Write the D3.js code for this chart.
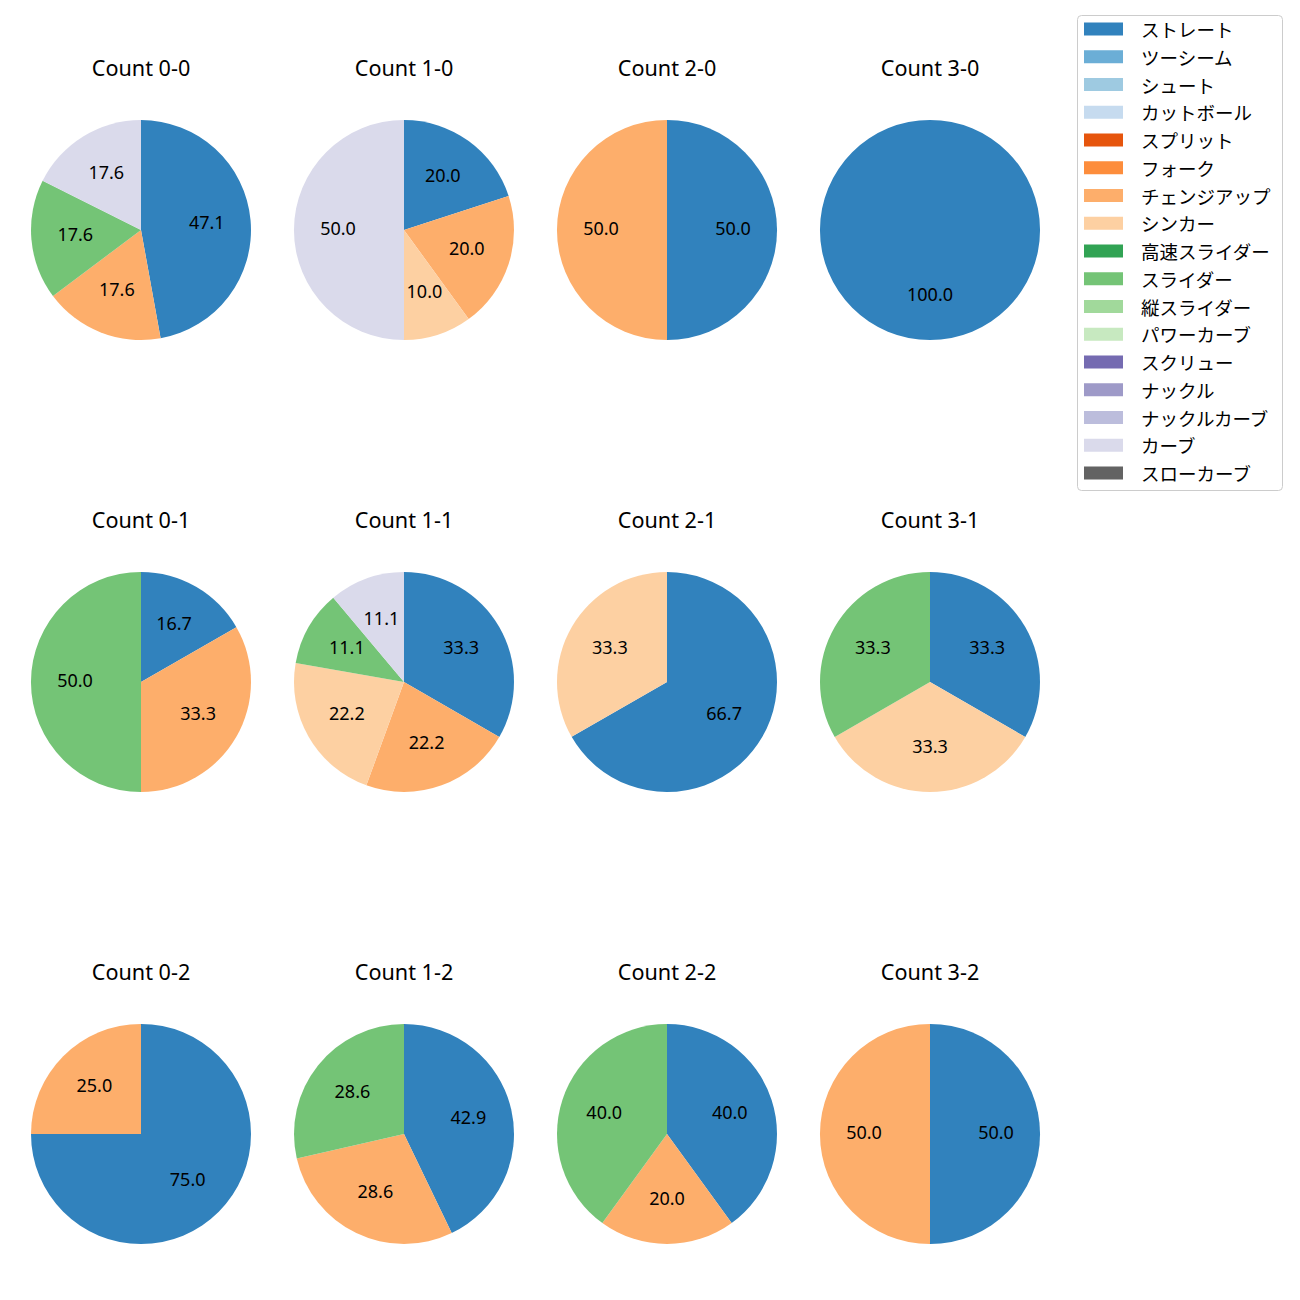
<!DOCTYPE html>
<html><head><meta charset="utf-8">
<script src="https://cdn.jsdelivr.net/npm/d3@7"></script>
<style>body{margin:0;background:#fff}svg{display:block}text{font-family:"Noto Sans","Noto Sans CJK JP",sans-serif}.jp{font-family:"Noto Sans CJK JP","Noto Sans",sans-serif}</style>
</head><body><svg id="c" width="1300" height="1300"></svg>
<script>
const pitchTypes = ["ストレート","ツーシーム","シュート","カットボール","スプリット","フォーク","チェンジアップ","シンカー","高速スライダー","スライダー","縦スライダー","パワーカーブ","スクリュー","ナックル","ナックルカーブ","カーブ","スローカーブ"];
const pitchColors = ["#3182bd","#6baed6","#9ecae1","#c6dbef","#e6550d","#fd8d3c","#fdae6b","#fdd0a2","#31a354","#74c476","#a1d99b","#c7e9c0","#756bb1","#9e9ac8","#bcbddc","#dadaeb","#636363"];
const countTitles = ["Count 0-0","Count 1-0","Count 2-0","Count 3-0","Count 0-1","Count 1-1","Count 2-1","Count 3-1","Count 0-2","Count 1-2","Count 2-2","Count 3-2"];
// percentages per count, keyed by pitch type
const pct00 = {"ストレート":47.1,"チェンジアップ":17.6,"スライダー":17.6,"カーブ":17.6};
const pct10 = {"ストレート":20.0,"チェンジアップ":20.0,"シンカー":10.0,"カーブ":50.0};
const pct20 = {"ストレート":50.0,"チェンジアップ":50.0};
const pct30 = {"ストレート":100.0};
const pct01 = {"ストレート":16.7,"チェンジアップ":33.3,"スライダー":50.0};
const pct11 = {"ストレート":33.3,"チェンジアップ":22.2,"シンカー":22.2,"スライダー":11.1,"カーブ":11.1};
const pct21 = {"ストレート":66.7,"シンカー":33.3};
const pct31 = {"ストレート":33.3,"シンカー":33.3,"スライダー":33.3};
const pct02 = {"ストレート":75.0,"チェンジアップ":25.0};
const pct12 = {"ストレート":42.9,"チェンジアップ":28.6,"スライダー":28.6};
const pct22 = {"ストレート":40.0,"チェンジアップ":20.0,"スライダー":40.0};
const pct32 = {"ストレート":50.0,"チェンジアップ":50.0};
const countData = [pct00,pct10,pct20,pct30,pct01,pct11,pct21,pct31,pct02,pct12,pct22,pct32];

const svg = d3.select("#c");
const color = d3.scaleOrdinal().domain(pitchTypes).range(pitchColors);
const xPos = d3.scaleLinear().domain([0,3]).range([141,930]);
const yPos = d3.scaleLinear().domain([0,2]).range([230,1134]);
const R = 110;
const pie = d3.pie().sort(null).value(d=>d.v).startAngle(0).endAngle(2*Math.PI);
const arc = d3.arc().innerRadius(0).outerRadius(R);
const labelArc = d3.arc().innerRadius(R*0.6).outerRadius(R*0.6);

countData.forEach((obj,i)=>{
  const col = i%4, row = Math.floor(i/4);
  const g = svg.append("g").attr("transform",`translate(${xPos(col)},${yPos(row)})`);
  const data = pitchTypes.filter(p=>obj[p]!==undefined).map(p=>({k:p,v:obj[p]}));
  const arcs = pie(data);
  g.selectAll("path").data(arcs).join("path").attr("d",arc).attr("fill",d=>color(d.data.k));
  g.selectAll("text.l").data(arcs).join("text").attr("class","l")
    .attr("transform",d=>{const c=labelArc.centroid(d);return `translate(${c[0]},${c[1]+5})`;})
    .attr("text-anchor","middle")
    .attr("font-size",18).attr("fill","#000").text(d=>d.data.v.toFixed(1));
  g.append("text").attr("x",0).attr("y",-153.6).attr("text-anchor","middle")
    .attr("font-size",21.6).attr("fill","#000").text(countTitles[i]);
});

// legend
const lg = svg.append("g");
lg.append("rect").attr("x",1077.5).attr("y",15.5).attr("width",205).attr("height",475).attr("rx",4)
  .attr("fill","#fff").attr("fill-opacity",0.8).attr("stroke","#cccccc").attr("stroke-width",1);
const ly = d3.scaleLinear().domain([0,16]).range([29,473]);
pitchTypes.forEach((p,i)=>{
  lg.append("rect").attr("x",1084).attr("y",ly(i)-6.5).attr("width",39).attr("height",13).attr("fill",color(p));
  lg.append("text").attr("class","jp").attr("x",1141).attr("y",ly(i)).attr("dominant-baseline","central")
    .attr("font-size",18.5).attr("fill","#000").text(p);
});
</script></body></html>
